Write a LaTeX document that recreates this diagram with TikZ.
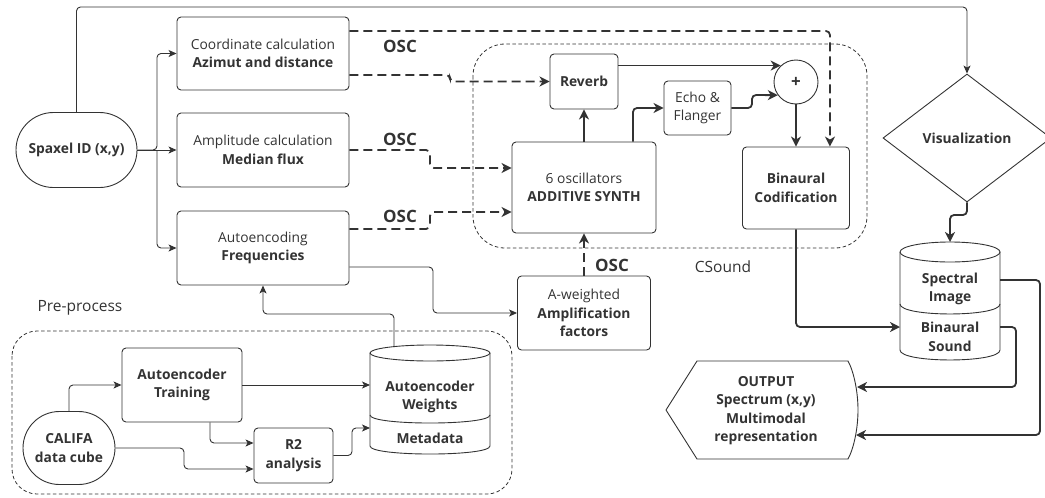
\documentclass[tikz,border=0pt]{standalone}
\usepackage{fontspec}
\setmainfont{Open Sans}
\usetikzlibrary{arrows.meta,shapes.misc,shapes.geometric,calc}
\definecolor{ink}{HTML}{333333}
\begin{document}
\begin{tikzpicture}[x=1pt,y=-1pt,
 txt/.style={text=ink,font=\fontsize{13.8}{18.5}\selectfont,align=center,inner sep=0pt},
 btxt/.style={text=ink,font=\fontsize{13.8}{18.5}\selectfont\bfseries,align=center,inner sep=0pt},
 box/.style={draw=ink,line width=0.9pt,rounded corners=4pt,align=center,text=ink,font=\fontsize{13.8}{18.5}\selectfont,inner sep=0pt},
 bbox/.style={box,font=\fontsize{13.8}{18.5}\selectfont\bfseries},
 stad/.style={draw=ink,line width=0.9pt,rounded rectangle,align=center,text=ink,font=\fontsize{13.8}{18.5}\selectfont\bfseries,inner sep=0pt},
 osc/.style={text=ink,font=\fontsize{17}{18}\selectfont\bfseries,inner sep=0pt},
 lbl/.style={text=ink,font=\fontsize{15.5}{18}\selectfont,inner sep=0pt},
 con/.style={draw=ink,line width=0.9pt,rounded corners=4pt,-{Stealth[length=8pt,width=7pt,inset=2pt]}},
 hvy/.style={draw=ink,line width=1.8pt,rounded corners=4pt,-{Stealth[length=10pt,width=10pt,inset=3pt]}},
 dsh/.style={hvy,dash pattern=on 9pt off 5pt},
 region/.style={draw=ink,line width=0.8pt,dash pattern=on 3.5pt off 2.5pt},
 cyl/.style={draw=ink,line width=0.9pt},
]
\useasboundingbox (0,0) rectangle (1045,498);

% regions
\draw[region,rounded corners=32pt] (473,44) rectangle (867,248);
\draw[region,rounded corners=25pt] (12,331) rectangle (512,494);
\node[lbl] (csound) at (723,267) {CSound};
\node[lbl] (preproc) at (80,308) {Pre-process};

% nodes
\node[stad,minimum width=121pt,minimum height=75pt] (spaxel) at (76.5,150) {Spaxel ID (x,y)};
\node[box,minimum width=172pt,minimum height=73pt] (coord) at (263,53.5) {Coordinate calculation\\\textbf{Azimut and distance}};
\node[box,minimum width=172pt,minimum height=74pt] (amp) at (263,150) {Amplitude calculation\\\textbf{Median flux}};
\node[box,minimum width=172pt,minimum height=74pt] (autoenc) at (263,248) {Autoencoding\\\textbf{Frequencies}};
\node[box,minimum width=144pt,minimum height=91pt] (osc6) at (584,187.5) {6 oscillators\\\textbf{ADDITIVE SYNTH}};
\node[bbox,minimum width=68pt,minimum height=55pt] (reverb) at (584,81.5) {Reverb};
\node[box,minimum width=67pt,minimum height=54pt] (echo) at (697.5,108) {Echo \&\\Flanger};
\node[draw=ink,line width=0.9pt,circle,minimum size=44pt,inner sep=0pt,text=ink,font=\fontsize{17}{17}\selectfont\bfseries] (plus) at (796,82) {+};
\node[bbox,minimum width=107pt,minimum height=82pt] (binaural) at (796,188) {Binaural\\Codification};
\node[box,minimum width=133pt,minimum height=74pt] (aweight) at (584,313) {A-weighted\\\textbf{Amplification}\\\textbf{factors}};
\node[bbox,minimum width=120pt,minimum height=74pt] (training) at (182,385) {Autoencoder\\Training};
\node[stad,minimum width=92pt,minimum height=73pt] (califa) at (69,448) {CALIFA\\data cube};
\node[bbox,minimum width=79pt,minimum height=55pt] (r2) at (293.5,455.5) {R2\\analysis};
\node[diamond,draw=ink,line width=0.9pt,minimum width=168pt,minimum height=128pt,inner sep=0pt,text=ink,font=\fontsize{13.8}{18.5}\selectfont\bfseries] (viz) at (967,138) {Visualization};

% OSC labels
\node[osc] (osc1) at (400,46) {OSC};
\node[osc] (osc2) at (400,139) {OSC};
\node[osc] (osc3) at (400,216) {OSC};
\node[osc] (osc4) at (612,265) {OSC};

% cylinder: autoencoder weights
\draw[cyl] (370,353) -- (370,446) .. controls (370,456.7) and (490,456.7) .. (490,446) -- (490,353);
\draw[cyl] (430,353) ellipse [x radius=60, y radius=8];
\draw[cyl] (370,415) .. controls (370,425.7) and (490,425.7) .. (490,415);
\node[btxt] (wtxt) at (430,397) {Autoencoder\\Weights};
\node[btxt] (mtxt) at (430,438) {Metadata};
\coordinate (wtop) at (394,347);
\coordinate (wIn) at (370,385);
\coordinate (mIn) at (370,428);

% cylinder: spectral image / binaural sound
\draw[cyl] (900,252) -- (900,350) .. controls (900,363.3) and (1000,363.3) .. (1000,350) -- (1000,252);
\draw[cyl] (950,252) ellipse [x radius=50, y radius=10];
\draw[cyl] (900,304) .. controls (900,317.3) and (1000,317.3) .. (1000,304);
\node[btxt] (simg) at (950,289) {Spectral\\Image};
\node[btxt] (bsnd) at (950,337) {Binaural\\Sound};
\coordinate (sTop) at (950,242);
\coordinate (sImgR) at (1000,280);
\coordinate (bSndR) at (1000,327);
\coordinate (bSndL) at (900,327);

% output shape
\draw[cyl,line join=round] (666,410) -- (697,361) -- (848,361) .. controls (854,372) and (858,392) .. (858,410) .. controls (858,428) and (854,448) .. (848,459) -- (697,459) -- cycle;
\node[btxt] (output) at (766,410.5) {OUTPUT\\Spectrum (x,y)\\Multimodal\\representation};
\coordinate (outA) at (856,435);
\coordinate (outB) at (857,387);

% thin connectors
\coordinate (br) at (157,150);
\draw[con] (spaxel.east) -- (br) |- (coord.west);
\draw[con] (br) |- (autoenc.west);
\draw[con] (spaxel.east) -- (amp.west);
\coordinate (topline) at (0,7);
\draw[con] (spaxel.north) -- (spaxel.north |- topline) -- (viz.north |- topline) -- (viz.north);
\draw[con] (autoenc.east |- 0,267) -- (433,267) |- (aweight.west);
\draw[con] (wtop) -- (394,314) -| (autoenc.south);
\draw[con] (califa.north) |- (training.west);
\draw[con] (califa.east) -- (184,448) |- (r2.west |- 0,469);
\draw[con] (training.south -| 210,0) |- (r2.west |- 0,443);
\draw[con] (training.east) -- (wIn);
\draw[con] (r2.east) -- (352,455.5) |- (mIn);

% dashed OSC connectors
\coordinate (d1) at (829,31);
\draw[dsh] (coord.east |- d1) -| ($(binaural.north east)+(-20,0)$);
\draw[dsh] (coord.east |- 0,75) -- (450,75) -- (450,81.5) -- (reverb.west);
\draw[dsh] (amp.east) -- (430,150) -- (430,168) -- (osc6.west |- 0,168);
\draw[dsh] (autoenc.east |- 0,229) -- (430,229) -- (430,212) -- (osc6.west |- 0,212);
\draw[dsh] (aweight.north) -- (osc6.south);

% heavy connectors
\draw[hvy] (osc6.north) -- (reverb.south);
\draw[hvy] (osc6.north -| 633,0) |- (echo.west);
\draw[hvy] (reverb.east |- plus.133) -- (plus.133);
\draw[hvy] (echo.east) -- (752,108) -- (752,95) -- (plus.216);
\draw[hvy] (plus.south) -- (binaural.north);
\draw[hvy] (binaural.south) |- (bSndL);
\draw[hvy] (viz.south) -- (967,215) -| (sTop);
\draw[hvy] (sImgR) -- (1040,280) |- (outA);
\draw[hvy] (bSndR) -- (1016,327) |- (outB);
\end{tikzpicture}
\end{document}
